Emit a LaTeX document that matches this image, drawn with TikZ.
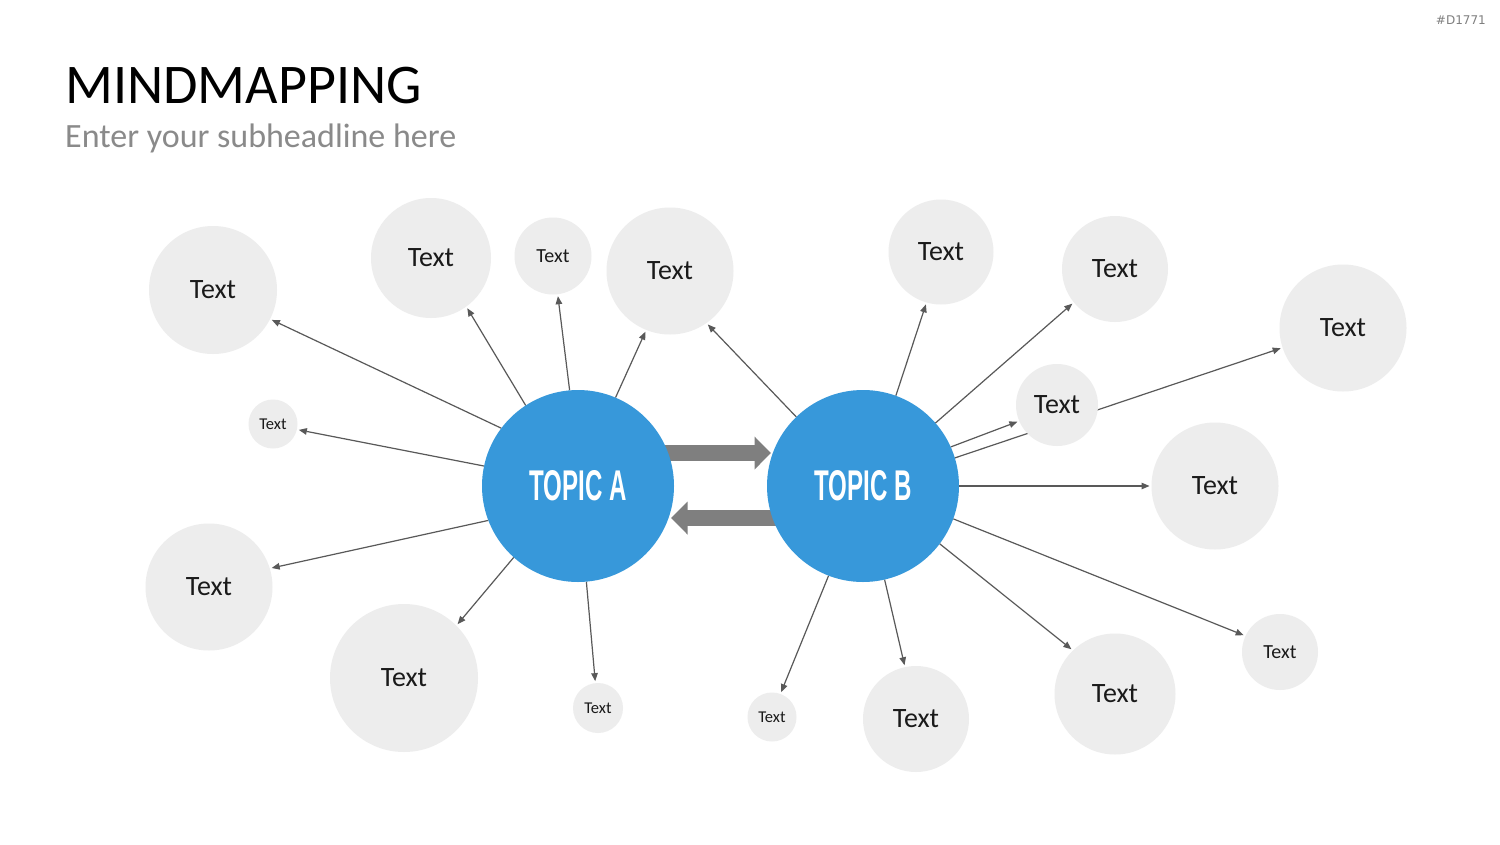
\documentclass[tikz,border=0pt]{standalone}
\usepackage{fontspec}
\usepackage{graphicx}
\setmainfont{Carlito}
\newfontfamily\topicfont{Liberation Sans}
\newfontfamily\tagfont{DejaVu Sans}
\usetikzlibrary{arrows.meta,backgrounds}
\pgfdeclarelayer{bottom}
\pgfsetlayers{bottom,background,main}
\definecolor{topicblue}{HTML}{3798DA}
\definecolor{bubblegray}{HTML}{EDEDED}
\definecolor{linkgray}{HTML}{595959}
\definecolor{fatgray}{HTML}{7F7F7F}
\definecolor{textdark}{HTML}{1A1A1A}
\definecolor{subgray}{HTML}{8A8A8A}
\tikzset{
  topic/.style={circle, fill=topicblue, minimum size=192pt, inner sep=0pt, outer sep=0pt, text=white,
    font=\topicfont\bfseries\fontsize{43}{43}\selectfont},
  bubble/.style={circle, fill=bubblegray, inner sep=0pt, outer sep=0pt, text=textdark},
  bigtxt/.style={bubble, font=\fontsize{28}{30}\selectfont},
  midtxt/.style={bubble, font=\fontsize{20}{22}\selectfont},
  smalltxt/.style={bubble, font=\fontsize{16.5}{18}\selectfont},
  link/.style={draw=linkgray, line width=1.2pt, -{Triangle[length=8pt,width=6.5pt]}, shorten >=2pt},
  fat/.style={draw=fatgray, line width=16.5pt, -{Triangle[length=16.5pt,width=32pt]}}
}
\newcommand{\topictext}[1]{\scalebox{0.56}[1]{#1}}
\begin{document}
\begin{tikzpicture}[x=1pt,y=-1pt]
\useasboundingbox (0,0) rectangle (1500,844);
\begin{pgfonlayer}{bottom}
\fill[white] (0,0) rectangle (1500,844);
\end{pgfonlayer}

% header
\node[anchor=base west, inner sep=0pt, font=\fontsize{56}{60}\selectfont, text=black] (title) at (65,103) {MINDMAPPING};
\node[anchor=base west, inner sep=0pt, font=\fontsize{34}{38}\selectfont, text=subgray] (sub) at (65,147) {Enter your subheadline here};
\node[anchor=east, inner sep=0pt, font=\tagfont\fontsize{12}{14}\selectfont, text=fatgray] (tag) at (1486,20) {\#D1771};

% topics
\node[topic] (A) at (578,486) {\topictext{TOPIC A}};
\node[topic] (B) at (863,486) {\topictext{TOPIC B}};

% bubbles
\node[bigtxt, minimum size=128pt] (c1) at (213,290) {Text};
\node[bigtxt, minimum size=120pt] (c2) at (431,258) {Text};
\node[midtxt, minimum size=77pt] (c3) at (553,256) {Text};
\node[bigtxt, minimum size=127pt] (c4) at (670,271) {Text};
\node[smalltxt, minimum size=49pt] (c5) at (273,424) {Text};
\node[bigtxt, minimum size=127pt] (c6) at (209,587) {Text};
\node[bigtxt, minimum size=148pt] (c7) at (404,678) {Text};
\node[smalltxt, minimum size=50pt] (c8) at (598,708) {Text};
\node[bigtxt, minimum size=105pt] (c9) at (941,252) {Text};
\node[bigtxt, minimum size=106pt] (c10) at (1115,269) {Text};
\node[bigtxt, minimum size=127pt] (c11) at (1343,328) {Text};
\node[bigtxt, minimum size=82pt] (c12) at (1057,405) {Text};
\node[bigtxt, minimum size=127pt] (c13) at (1215,486) {Text};
\node[midtxt, minimum size=76pt] (c14) at (1280,652) {Text};
\node[bigtxt, minimum size=121pt] (c15) at (1115,694) {Text};
\node[bigtxt, minimum size=106pt] (c16) at (916,719) {Text};
\node[smalltxt, minimum size=49pt] (c17) at (772,717) {Text};

\begin{pgfonlayer}{background}
% exchange arrows
\draw[fat] ([yshift=33pt]A.center) -- ([xshift=4pt,yshift=33pt]B.west);
\draw[fat] ([yshift=-32pt]B.center) -- ([xshift=-3pt,yshift=-32pt]A.east);
% links from topic A
\draw[link] (A.143) -- (c1.333);
\draw[link] (A.123) -- (c2.306);
\draw[link] (A.95) -- (c3.277);
\draw[link] (A.67) -- (c4.248);
\draw[link] (A.168) -- (c5.347);
\draw[link] (A.201) -- (c6.17);
\draw[link] (A.228) -- (c7.45);
\draw[link] (A.275) -- (c8.96);
% links from topic B
\draw[link] (B.134) -- (c4.305);
\draw[link] (B.70) -- (c9.254);
\draw[link] (B.41) -- (c10.219);
\draw[link] (B.24) -- (c12.203);
\draw[link] (B.17) -- (c11.198);
\draw[link] (B.0) -- (c13.180);
\draw[link] (B.-20) -- (c14.155);
\draw[link] (B.-37) -- (c15.134);
\draw[link] (B.-77.5) -- (c16.102.5);
\draw[link] (B.-111) -- (c17.70);
\end{pgfonlayer}
\end{tikzpicture}
\end{document}
